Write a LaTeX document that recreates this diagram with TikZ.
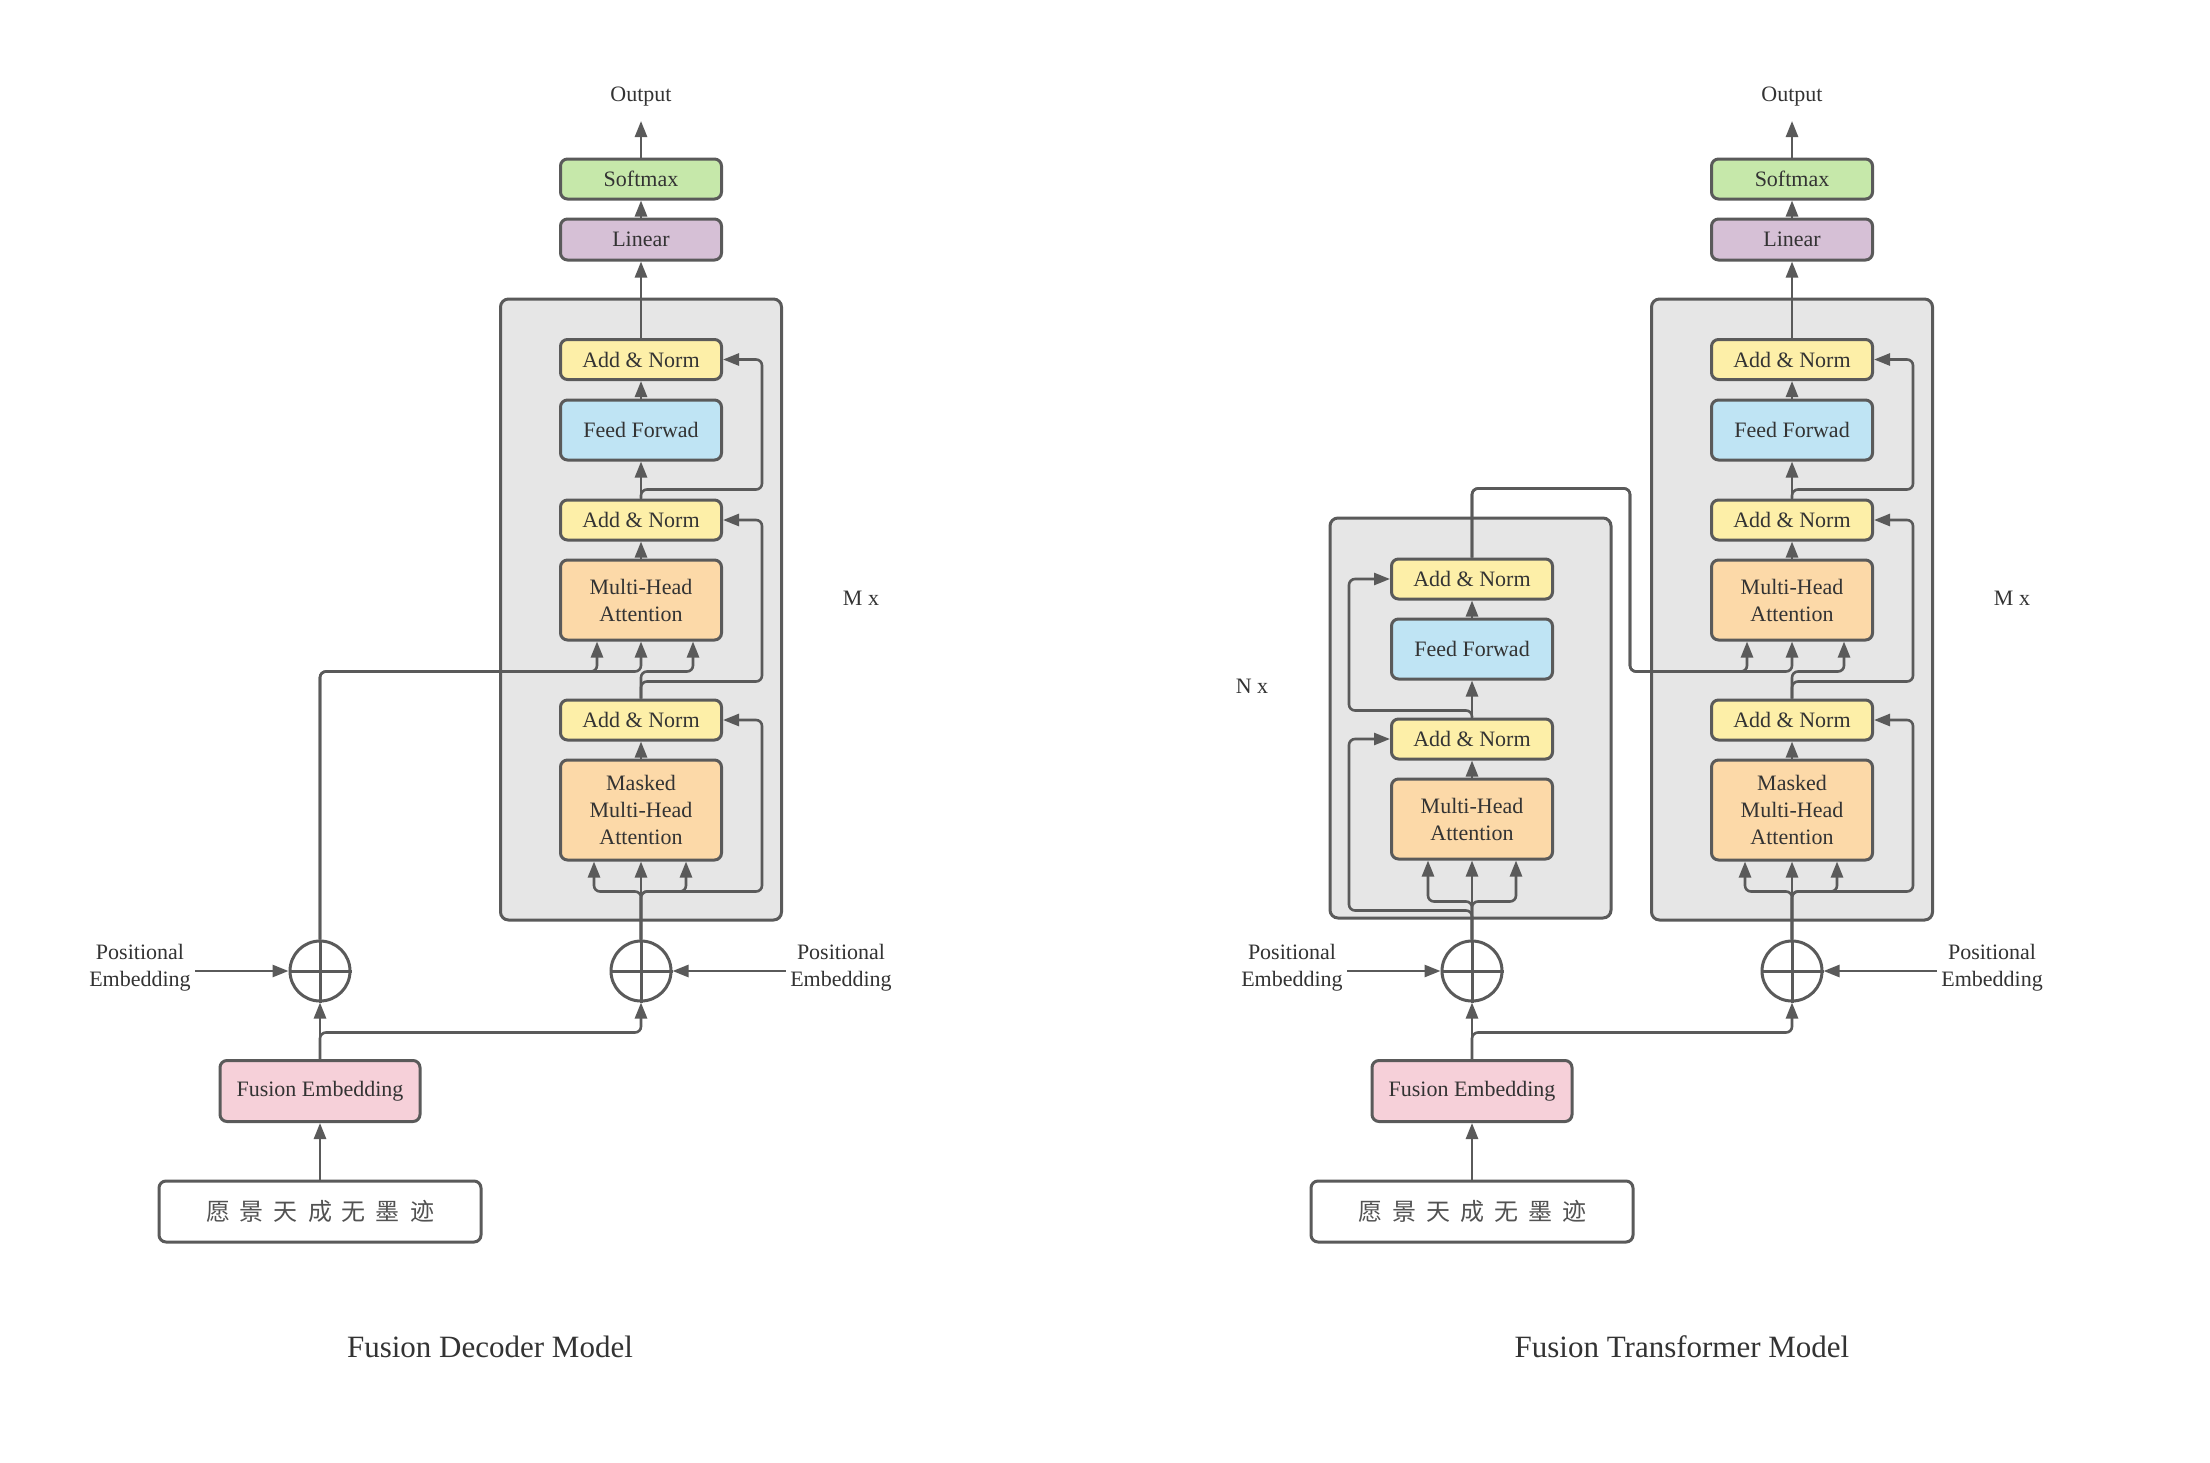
\documentclass[tikz,border=0pt]{standalone}
\usepackage{fontspec}
\setmainfont{Liberation Serif}
\newfontfamily\cjk{Noto Sans CJK SC}
\usetikzlibrary{arrows.meta}
\definecolor{ln}{HTML}{5A5A5A}
\definecolor{txt}{HTML}{333333}
\definecolor{cgray}{HTML}{E6E6E6}
\definecolor{cyel}{HTML}{FDEFA8}
\definecolor{cgreen}{HTML}{C6E8AA}
\definecolor{cpurple}{HTML}{D6C0D6}
\definecolor{cblue}{HTML}{BFE4F4}
\definecolor{cpeach}{HTML}{FCD9A8}
\definecolor{cpink}{HTML}{F6D0D9}
\tikzset{
  blk/.style={draw=ln, line width=1.5pt, rounded corners=3.5pt, minimum width=80.5pt,
    inner sep=0pt, align=center, font=\fontsize{11}{13.5}\selectfont, text=txt},
  an/.style={blk, fill=cyel, minimum height=20pt},
  att/.style={blk, fill=cpeach},
  gbox/.style={draw=ln, fill=cgray, line width=1.5pt, rounded corners=4pt, inner sep=0pt},
  lbl/.style={align=center, font=\fontsize{11}{13.5}\selectfont, text=txt, inner sep=2pt},
  plus/.style={circle, draw=ln, line width=1.5pt, minimum size=30pt, inner sep=0pt},
  arr/.style={draw=ln, line width=1.3pt, -{Triangle[length=8pt,width=6pt]}},
  rc/.style={rounded corners=3pt},
}
\newcommand\decblock[2]{%
  \node[gbox, minimum width=140.5pt, minimum height=310.5pt] (#1box) at (#2,609.5) {};
  \node[lbl] (#1out) at (#2,97) {Output};
  \coordinate (#1outin) at (#2,121);
  \node[blk, fill=cgreen, minimum height=20pt] (#1soft) at (#2,179) {Softmax};
  \node[blk, fill=cpurple, minimum height=20.5pt] (#1lin) at (#2,239.5) {Linear};
  \node[an] (#1an1) at (#2,359.5) {Add \& Norm};
  \node[blk, fill=cblue, minimum height=30pt] (#1ff) at (#2,430) {Feed Forwad};
  \node[an] (#1an2) at (#2,520) {Add \& Norm};
  \node[att, minimum height=40pt] (#1mha) at (#2,600) {Multi-Head\\Attention};
  \node[an] (#1an3) at (#2,720) {Add \& Norm};
  \node[att, minimum height=50pt] (#1mmha) at (#2,810) {Masked\\Multi-Head\\Attention};
  \node[plus] (#1circ) at (#2,971) {};
  \draw[ln, line width=1.5pt] (#1circ.north) -- (#1circ.south) (#1circ.west) -- (#1circ.east);
  \node[lbl] (#1pos) at ({#2+200},968) {Positional\\Embedding};
  \node[lbl] (#1mx) at ({#2+220},598) {M x};
  \draw[arr] (#1soft.north) -- (#1outin);
  \draw[arr] (#1lin.north) -- (#1soft.south);
  \draw[arr] (#1an1.north) -- (#1lin.south);
  \draw[arr] (#1ff.north) -- (#1an1.south);
  \draw[arr] (#1an2.north) -- (#1ff.south);
  \draw[arr] (#1mha.north) -- (#1an2.south);
  \draw[arr] (#1mmha.north) -- (#1an3.south);
  \draw[arr,rc] (#1an2.north) |- ([xshift=60.5pt,yshift=-14pt]#1ff.south) |- (#1an1.east);
  \draw[arr,rc] (#1an3.north) |- ([xshift=60.5pt,yshift=-20pt]#1mha.south) |- (#1an2.east);
  \draw[arr,rc] (#1an3.north) |- ([xshift=26pt,yshift=-15pt]#1mha.south) -- ([xshift=26pt]#1mha.south);
  \draw[arr] (#1circ.north) -- (#1mmha.south);
  \draw[arr,rc] (#1circ.north) |- ([xshift=-23.5pt,yshift=-15pt]#1mmha.south) -- ([xshift=-23.5pt]#1mmha.south);
  \draw[arr,rc] (#1circ.north) |- ([xshift=22.5pt,yshift=-15pt]#1mmha.south) -- ([xshift=22.5pt]#1mmha.south);
  \draw[arr,rc] (#1circ.north) |- ([xshift=60.5pt,yshift=-15pt]#1mmha.south) |- (#1an3.east);
  \draw[arr] (#1pos.west |- #1circ.east) -- (#1circ.east);
}
\newcommand\inputgroup[3]{%
  \node[plus] (#1circ) at (#2,971) {};
  \draw[ln, line width=1.5pt] (#1circ.north) -- (#1circ.south) (#1circ.west) -- (#1circ.east);
  \node[lbl] (#1pos) at ({#2-180},968) {Positional\\Embedding};
  \node[blk, fill=cpink, minimum width=100pt, minimum height=30.5pt] (#1fe) at (#2,1091) {Fusion Embedding};
  \node[blk, fill=white, minimum width=161pt, minimum height=30.5pt, font=\cjk\fontsize{12}{14}\selectfont, text=txt!85]
    (#1chin) at (#2,1211.5) {愿\hspace{5pt}景\hspace{5pt}天\hspace{5pt}成\hspace{5pt}无\hspace{5pt}墨\hspace{5pt}迹};
  \draw[arr] (#1pos.east |- #1circ.west) -- (#1circ.west);
  \draw[arr] (#1chin.north) -- (#1fe.south);
  \draw[arr] (#1fe.north) -- (#1circ.south);
  \draw[arr,rc] (#1fe.north) |- ([yshift=-15pt]#3circ.south) -- (#3circ.south);
}
\begin{document}
\begin{tikzpicture}[x=0.5pt,y=-0.5pt]
\fill[white] (0,0) rectangle (2210,1462);
\useasboundingbox (0,0) rectangle (2210,1462);

% ---------------- Left: Fusion Decoder Model
\decblock{L}{641}
\inputgroup{Li}{320}{L}
\draw[arr,rc] (Licirc.north) |- ([xshift=-22pt,yshift=-15pt]Lmha.south) -- ([xshift=-22pt]Lmha.south);
\draw[arr,rc] (Licirc.north) |- ([yshift=-15pt]Lmha.south) -- (Lmha.south);
\node[font=\fontsize{15.5}{18}\selectfont, text=txt] (Lcap) at (490,1347) {Fusion Decoder Model};

% ---------------- Right: Fusion Transformer Model
\node[gbox, minimum width=140.5pt, minimum height=200pt] (Ebox) at (1470.5,718) {};
\decblock{R}{1792}
\node[an] (Ean1) at (1472,579) {Add \& Norm};
\node[blk, fill=cblue, minimum height=30pt] (Eff) at (1472,649) {Feed Forwad};
\node[an] (Ean2) at (1472,739) {Add \& Norm};
\node[att, minimum height=40pt] (Emha) at (1472,819) {Multi-Head\\Attention};
\node[lbl] (Enx) at (1252,686) {N x};
\inputgroup{Ri}{1472}{R}
\draw[arr] (Eff.north) -- (Ean1.south);
\draw[arr] (Ean2.north) -- (Eff.south);
\draw[arr] (Emha.north) -- (Ean2.south);
\draw[arr] (Ricirc.north) -- (Emha.south);
\draw[arr,rc] (Ricirc.north) |- ([xshift=-22pt,yshift=-20.5pt]Emha.south) -- ([xshift=-22pt]Emha.south);
\draw[arr,rc] (Ricirc.north) |- ([xshift=22pt,yshift=-20.5pt]Emha.south) -- ([xshift=22pt]Emha.south);
\draw[arr,rc] (Ricirc.north) |- ([xshift=-61.5pt,yshift=-25pt]Emha.south) |- (Ean2.west);
\draw[arr,rc] (Ean2.north) |- ([xshift=-61.5pt,yshift=-15pt]Eff.south) |- (Ean1.west);
\draw[arr,rc] (Ean1.north) -- ([yshift=34.5pt]Ean1.north) -| ([xshift=-81pt,yshift=-15pt]Rmha.south)
  -- ([xshift=-22.5pt,yshift=-15pt]Rmha.south) -- ([xshift=-22.5pt]Rmha.south);
\draw[arr,rc] (Ean1.north) -- ([yshift=34.5pt]Ean1.north) -| ([xshift=-81pt,yshift=-15pt]Rmha.south)
  -- ([yshift=-15pt]Rmha.south) -- (Rmha.south);
\node[font=\fontsize{15.5}{18}\selectfont, text=txt] (Rcap) at (1682,1347) {Fusion Transformer Model};
\end{tikzpicture}
\end{document}
